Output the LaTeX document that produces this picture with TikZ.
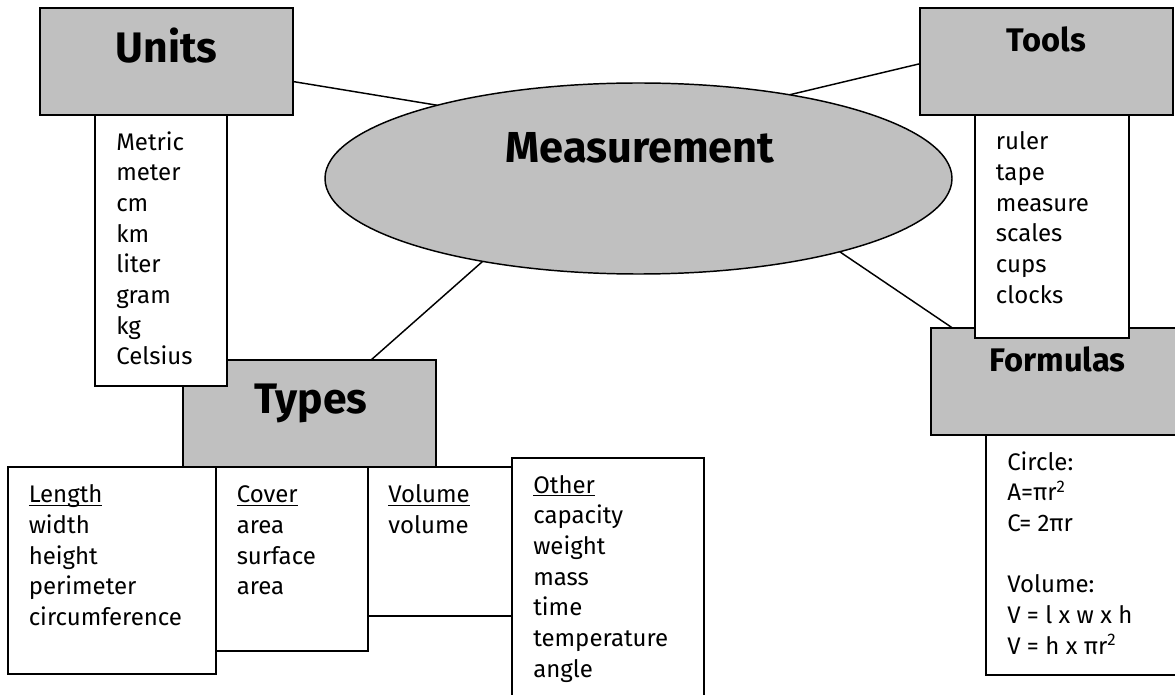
\documentclass[tikz,border=0pt]{standalone}
\usepackage{fontspec}
\setmainfont{Fira Sans}
\usetikzlibrary{shapes.geometric}
\definecolor{boxgray}{RGB}{192,192,192}
\newcommand\ulword[1]{\leavevmode\setbox0\hbox{#1}\rlap{\rule[-2.4pt]{\wd0}{0.9pt}}\box0}
\pgfdeclarelayer{back}
\pgfdeclarelayer{lines}
\pgfsetlayers{back,lines,main}
\begin{document}
\begin{tikzpicture}[x=0.75pt,y=-0.75pt,
  gbox/.style={draw, line width=1.4pt, fill=boxgray, minimum width=189.75pt, minimum height=80.25pt, inner sep=0pt, outer sep=0pt},
  wbox/.style={draw, line width=1.4pt, fill=white, inner sep=0pt, outer sep=0pt},
  ovalbox/.style={ellipse, draw, line width=1.1pt, fill=boxgray, minimum width=470.25pt, minimum height=143.25pt, inner sep=0pt, outer sep=0pt},
  conn/.style={line width=1.1pt},
  bigtitle/.style={font=\fontsize{32}{36}\selectfont\bfseries, anchor=base, inner sep=0pt},
  smalltitle/.style={font=\fontsize{24.5}{28}\selectfont\bfseries, anchor=base, inner sep=0pt},
  listtext/.style={font=\fontsize{18}{23}\selectfont, align=left, anchor=base west, inner sep=0pt}]
\useasboundingbox (0,0) rectangle (1175,695);
\clip (0,0) rectangle (1175,695);
\begin{pgfonlayer}{back}
\fill[white] (0,0) rectangle (1175,695);
\end{pgfonlayer}

% central ellipse
\node[ovalbox] (meas) at (638.5,178.5) {};
\node[bigtitle, font=\fontsize{32.5}{36}\selectfont\bfseries] (meast) at (640,163) {Measurement};

% Types
\node[gbox] (types) at (309.5,413.5) {};
\node[bigtitle] (typest) at (311,413) {Types};

% Units list (in front of Types); anchors are at the last line's baseline
\node[wbox, minimum width=99pt, minimum height=203.25pt] (unitslist) at (161,250.5) {};
\node[listtext] (unitsitems) at (116,364.7) {Metric\\meter\\cm\\km\\liter\\gram\\kg\\Celsius};

% lower boxes
\node[wbox, minimum width=114pt, minimum height=138pt] (cover) at (292,559) {};
\node[wbox, minimum width=156pt, minimum height=155.25pt] (length) at (112,570.5) {};
\node[wbox, minimum width=108pt, minimum height=111.75pt] (volume) at (440,541.5) {};
\node[wbox, minimum width=144pt, minimum height=189pt] (other) at (608,584) {};
\node[listtext] (lengthitems) at (28.5,625.4) {\ulword{Length}\\width\\height\\perimeter\\circumference};
\node[listtext] (coveritems) at (236.5,594.7) {\ulword{Cover}\\area\\surface\\area};
\node[listtext] (volumeitems) at (388,533.4) {\ulword{Volume}\\volume};
\node[listtext] (otheritems) at (533,677) {\ulword{Other}\\capacity\\weight\\mass\\time\\temperature\\angle};

% Units
\node[gbox] (units) at (166.5,61.5) {};
\node[bigtitle] (unitst) at (166.5,63) {Units};

% Tools
\node[gbox] (tools) at (1046.5,61.5) {};
\node[smalltitle] (toolst) at (1046.5,52) {Tools};

% Formulas
\node[gbox] (formulas) at (1057.5,381.5) {};
\node[smalltitle] (formulast) at (1057.5,372) {Formulas};

% Tools list (in front of Formulas)
\node[wbox, minimum width=115.5pt, minimum height=167.25pt] (toolslist) at (1052,226.5) {};
\node[listtext] (toolsitems) at (995.7,303.3) {ruler\\tape\\measure\\scales\\cups\\clocks};

% Formulas list
\node[wbox, minimum width=160.5pt, minimum height=180pt] (formlist) at (1093,555) {};
\node[listtext] (formitems) at (1007,654) {Circle:\\A=πr\textsuperscript{2}\\C= 2πr\\ \mbox{}\\Volume:\\V = l x w x h\\V = h x πr\textsuperscript{2}};

% connectors
\begin{pgfonlayer}{lines}
\draw[conn] (units.-9.65) -- (meas.160.7);
\draw[conn] (tools.-179.3) -- (meas.29.9);
\draw[conn] (meas.-20.96) -- (formulas.153.1);
\draw[conn] (types.41.5) -- (meas.208.5);
\end{pgfonlayer}
\end{tikzpicture}
\end{document}
